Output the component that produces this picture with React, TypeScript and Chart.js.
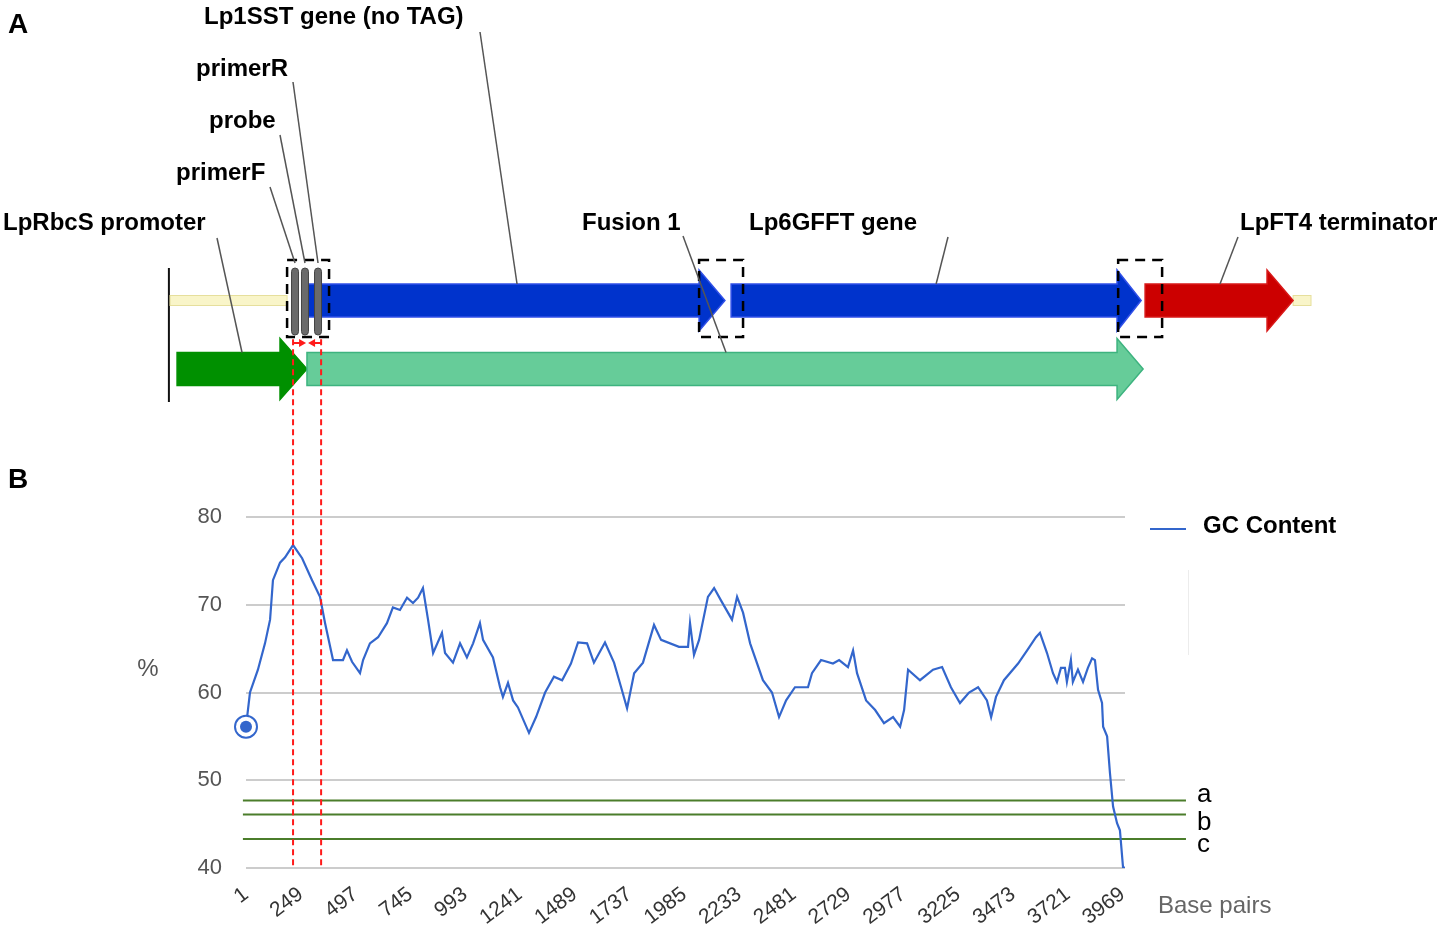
import React, { useEffect, useRef } from 'react';
import { Chart, registerables } from 'chart.js';

Chart.register(...registerables);

// ---------- Panel B data (GC content along the construct) ----------
const gcBp = [
  1, 19, 55, 87, 110, 123, 155, 178, 214, 255, 300, 336, 359, 395, 440, 458, 481, 517, 531, 562,
  599, 639, 666, 698, 730, 757, 780, 802, 825, 848, 888, 902, 938, 970, 1001, 1029, 1060, 1074, 1119, 1151,
  1164, 1187, 1210, 1232, 1282, 1314, 1355, 1395, 1432, 1472, 1504, 1545, 1576, 1626, 1667, 1699, 1726, 1758, 1798, 1848,
  1880, 1961, 2002, 2011, 2029, 2052, 2092, 2120, 2151, 2201, 2224, 2251, 2283, 2341, 2382, 2414, 2446, 2486, 2545, 2563,
  2604, 2658, 2686, 2726, 2749, 2767, 2808, 2849, 2889, 2930, 2962, 2980, 2998, 3052, 3111, 3152, 3192, 3233, 3274, 3315,
  3355, 3374, 3396, 3432, 3496, 3537, 3577, 3595, 3627, 3654, 3672, 3690, 3708, 3717, 3735, 3744, 3767, 3790, 3812, 3831,
  3844, 3858, 3876, 3881, 3899, 3912, 3926, 3944, 3957, 3971, 3980,
];
const gcPct = [
  56.1, 60.0, 62.6, 65.6, 68.3, 72.8, 74.8, 75.4, 76.8, 75.3, 72.8, 70.9, 67.9, 63.7, 63.7, 64.8, 63.5, 62.2, 63.7, 65.6,
  66.3, 67.9, 69.7, 69.4, 70.8, 70.2, 70.8, 71.9, 68.3, 64.5, 66.8, 64.5, 63.4, 65.6, 64.0, 65.6, 67.9, 66.0, 64.0, 60.6,
  59.5, 61.1, 59.1, 58.3, 55.4, 57.2, 60.0, 61.8, 61.4, 63.3, 65.7, 65.6, 63.4, 65.7, 63.4, 60.6, 58.2, 62.2, 63.4, 67.7,
  66.0, 65.2, 65.2, 67.9, 64.3, 66.0, 70.9, 71.9, 70.5, 68.3, 70.9, 69.1, 65.6, 61.4, 60.0, 57.2, 59.1, 60.6, 60.6, 62.2,
  63.7, 63.3, 63.7, 62.9, 64.8, 62.2, 59.1, 58.0, 56.5, 57.2, 56.1, 58.0, 62.6, 61.4, 62.6, 62.9, 60.6, 58.8, 60.0, 60.6,
  59.1, 57.2, 59.5, 61.4, 63.3, 64.8, 66.3, 66.8, 64.5, 62.2, 61.2, 62.8, 62.8, 61.2, 63.7, 61.2, 62.6, 61.2, 62.8, 63.9,
  63.7, 60.3, 58.8, 56.1, 55.0, 50.8, 47.0, 45.1, 44.3, 40.1, 40.0,
];
const xTickValues = [1, 249, 497, 745, 993, 1241, 1489, 1737, 1985, 2233, 2481, 2729, 2977, 3225, 3473, 3721, 3969];
const yTickValues = [40, 50, 60, 70, 80];
const thresholdLabels = ['a', 'b', 'c'];
const thresholdValues = [47.7, 46.1, 43.3];
const thresholdSpan = [-13, 4256];
const ampliconBp = [214, 341];
const ampliconSpanPct = [40.3, 100.5];

// ---------- Panel A data (construct map, in base pairs) ----------
const featureLabels = ['LpRbcS promoter', 'Lp1SST gene (no TAG)', 'Lp6GFFT gene', 'LpFT4 terminator', 'Fusion 1'];
const featureStart = [-311, 277, 2197, 4071, 277];
const featureBodyEnd = [155, 2052, 3944, 4623, 3944];
const featureTip = [277, 2169, 4053, 4741, 4062];
const featureTrack = [2, 1, 1, 1, 2];
const featureLeaderBp = [-17, 1228, 3125, 4410, 2174];
const primerLabels = ['primerF', 'probe', 'primerR'];
const primerBp = [223, 268, 327];
const junctionStart = [187, 2052, 3949];
const junctionEnd = [377, 2251, 4148];
const backboneStart = [-343, 4741];
const backboneEnd = [187, 4822];
const constructBoundaryBp = -348;

// ---------- styling ----------
const FONT = '"Liberation Sans", Arial, sans-serif';
const BLUE = '#3366cc';
const GREEN_LINE = '#4b7d2b';
const RED = '#ff1a1a';
const trackCenter: Record<number, number> = { 1: 300.5, 2: 369 };
const featureFill = ['#009000', '#0033cc', '#0033cc', '#cc0000', '#66cc99'];
const featureStroke = ['#009000', '#3050e8', '#3050e8', '#d81818', '#3db37f'];
const featureLabelPos = [[3, 230], [204, 24], [749, 230], [1240, 230], [582, 230]];
const featureLeaderTop = [[217, 238], [480, 32], [948, 237], [1238, 237], [683, 236]];
const primerLabelPos = [[176, 180], [209, 128], [196, 76]];
const primerLeaderTop = [[270, 187], [280, 135], [293, 82]];

const panelPlugin = {
  id: 'panelA',
  beforeDatasetsDraw(chart: any) {
    const ctx = chart.ctx as CanvasRenderingContext2D;
    const xs = chart.scales.x;
    const px = (bp: number) => xs.getPixelForValue(bp);
    ctx.save();

    // construct boundary
    ctx.strokeStyle = '#111';
    ctx.lineWidth = 2;
    ctx.beginPath();
    ctx.moveTo(px(constructBoundaryBp), 268);
    ctx.lineTo(px(constructBoundaryBp), 402);
    ctx.stroke();

    // backbone
    for (let i = 0; i < backboneStart.length; i++) {
      const x0 = px(backboneStart[i]);
      const x1 = px(backboneEnd[i]);
      ctx.fillStyle = '#f9f5c9';
      ctx.strokeStyle = '#e6df9c';
      ctx.lineWidth = 1;
      ctx.fillRect(x0, trackCenter[1] - 5, x1 - x0, 10);
      ctx.strokeRect(x0, trackCenter[1] - 5, x1 - x0, 10);
    }

    // arrows
    for (let i = 0; i < featureLabels.length; i++) {
      const c = trackCenter[featureTrack[i]];
      const x0 = px(featureStart[i]);
      const xb = px(featureBodyEnd[i]);
      const xt = px(featureTip[i]);
      const bh = 16.5;
      const hh = 30.5;
      ctx.beginPath();
      ctx.moveTo(x0, c - bh);
      ctx.lineTo(xb, c - bh);
      ctx.lineTo(xb, c - hh);
      ctx.lineTo(xt, c);
      ctx.lineTo(xb, c + hh);
      ctx.lineTo(xb, c + bh);
      ctx.lineTo(x0, c + bh);
      ctx.closePath();
      ctx.fillStyle = featureFill[i];
      ctx.fill();
      ctx.strokeStyle = featureStroke[i];
      ctx.lineWidth = 1.5;
      ctx.stroke();
    }

    // primers / probe
    for (let i = 0; i < primerBp.length; i++) {
      const x = px(primerBp[i]);
      ctx.fillStyle = '#6a6a6a';
      ctx.strokeStyle = '#444';
      ctx.lineWidth = 1;
      ctx.beginPath();
      (ctx as any).roundRect(x - 3.5, 268, 7, 67, 3.5);
      ctx.fill();
      ctx.stroke();
    }

    // dashed junction boxes
    ctx.setLineDash([10, 7]);
    ctx.strokeStyle = '#000';
    ctx.lineWidth = 2.5;
    for (let i = 0; i < junctionStart.length; i++) {
      const x0 = px(junctionStart[i]);
      const x1 = px(junctionEnd[i]);
      ctx.strokeRect(x0, 260, x1 - x0, 77);
    }
    ctx.setLineDash([]);

    // small red arrows between amplicon edges
    const a0 = px(ampliconBp[0]);
    const a1 = px(ampliconBp[1]);
    const mid = (a0 + a1) / 2;
    ctx.strokeStyle = RED;
    ctx.fillStyle = RED;
    ctx.lineWidth = 2;
    const ay = 343;
    ctx.beginPath();
    ctx.moveTo(a0, ay);
    ctx.lineTo(mid - 6, ay);
    ctx.moveTo(a1, ay);
    ctx.lineTo(mid + 6, ay);
    ctx.stroke();
    ctx.beginPath();
    ctx.moveTo(mid - 1, ay);
    ctx.lineTo(mid - 8, ay - 4);
    ctx.lineTo(mid - 8, ay + 4);
    ctx.closePath();
    ctx.moveTo(mid + 1, ay);
    ctx.lineTo(mid + 8, ay - 4);
    ctx.lineTo(mid + 8, ay + 4);
    ctx.closePath();
    ctx.fill();

    // leader lines
    ctx.strokeStyle = '#555';
    ctx.lineWidth = 1.5;
    for (let i = 0; i < featureLabels.length; i++) {
      const [lx, ly] = featureLeaderTop[i];
      const c = trackCenter[featureTrack[i]];
      ctx.beginPath();
      ctx.moveTo(lx, ly);
      ctx.lineTo(px(featureLeaderBp[i]), c - 16.5);
      ctx.stroke();
    }
    for (let i = 0; i < primerBp.length; i++) {
      const [lx, ly] = primerLeaderTop[i];
      ctx.beginPath();
      ctx.moveTo(lx, ly);
      ctx.lineTo(px(primerBp[i]), 263);
      ctx.stroke();
    }

    // labels
    ctx.fillStyle = '#000';
    ctx.textAlign = 'left';
    ctx.textBaseline = 'alphabetic';
    ctx.font = `bold 24px ${FONT}`;
    for (let i = 0; i < featureLabels.length; i++) {
      ctx.fillText(featureLabels[i], featureLabelPos[i][0], featureLabelPos[i][1]);
    }
    for (let i = 0; i < primerLabels.length; i++) {
      ctx.fillText(primerLabels[i], primerLabelPos[i][0], primerLabelPos[i][1]);
    }

    // panel letters
    ctx.font = `bold 28px ${FONT}`;
    ctx.fillText('A', 8, 33);
    ctx.fillText('B', 8, 488);
    ctx.restore();
  },
  afterDraw(chart: any) {
    const ctx = chart.ctx as CanvasRenderingContext2D;
    const ys = chart.scales.y;
    const xs = chart.scales.x;
    ctx.save();
    // % axis title
    ctx.fillStyle = '#555';
    ctx.font = `24px ${FONT}`;
    ctx.textAlign = 'center';
    ctx.textBaseline = 'middle';
    ctx.fillText('%', 148, 669);

    // threshold labels
    const offs = [2, 16, 13];
    ctx.fillStyle = '#000';
    ctx.font = `26px ${FONT}`;
    ctx.textAlign = 'left';
    ctx.textBaseline = 'alphabetic';
    for (let i = 0; i < thresholdLabels.length; i++) {
      ctx.fillText(thresholdLabels[i], xs.getPixelForValue(thresholdSpan[1]) + 11, ys.getPixelForValue(thresholdValues[i]) + offs[i]);
    }

    // x axis title
    ctx.fillStyle = '#666';
    ctx.font = `24px ${FONT}`;
    ctx.fillText('Base pairs', 1158, 913);

    // legend
    ctx.strokeStyle = BLUE;
    ctx.lineWidth = 2;
    ctx.beginPath();
    ctx.moveTo(1150, 529);
    ctx.lineTo(1186, 529);
    ctx.stroke();
    ctx.fillStyle = '#000';
    ctx.font = `bold 24px ${FONT}`;
    ctx.fillText('GC Content', 1203, 533);

    // faint separator
    ctx.strokeStyle = '#ececec';
    ctx.lineWidth = 1;
    ctx.beginPath();
    ctx.moveTo(1188.5, 570);
    ctx.lineTo(1188.5, 655);
    ctx.stroke();
    ctx.restore();
  },
};

export default function App() {
  const canvasRef = useRef<HTMLCanvasElement | null>(null);

  useEffect(() => {
    const canvas = canvasRef.current;
    if (!canvas) return;
    const gcPoints = gcBp.map((x, i) => ({ x, y: gcPct[i] }));
    const chart = new Chart(canvas, {
      type: 'line',
      data: {
        datasets: [
          {
            label: 'start',
            data: [gcPoints[0]],
            showLine: false,
            pointRadius: 6,
            pointBackgroundColor: BLUE,
            pointBorderWidth: 0,
            clip: false as any,
            order: 0,
          },
          {
            label: 'start ring',
            data: [gcPoints[0]],
            showLine: false,
            pointRadius: 11,
            pointBackgroundColor: '#ffffff',
            pointBorderColor: BLUE,
            pointBorderWidth: 2,
            clip: false as any,
            order: 1,
          },
          {
            label: 'GC Content',
            data: gcPoints,
            borderColor: BLUE,
            borderWidth: 2.2,
            pointRadius: 0,
            tension: 0,
            order: 2,
          },
          ...thresholdValues.map((v, i) => ({
            label: thresholdLabels[i],
            data: [{ x: thresholdSpan[0], y: v }, { x: thresholdSpan[1], y: v }],
            borderColor: GREEN_LINE,
            borderWidth: 2,
            pointRadius: 0,
            clip: false as any,
            order: 3,
          })),
          ...ampliconBp.map((b, i) => ({
            label: 'amplicon ' + i,
            data: [{ x: b, y: ampliconSpanPct[0] }, { x: b, y: ampliconSpanPct[1] }],
            borderColor: RED,
            borderWidth: 2,
            borderDash: [6, 4],
            pointRadius: 0,
            clip: false as any,
            order: -1,
          })),
        ] as any,
      },
      options: {
        animation: false,
        responsive: false,
        devicePixelRatio: 1,
        layout: { padding: { top: 517, right: 327, bottom: 0, left: 0 } },
        plugins: { legend: { display: false }, tooltip: { enabled: false } },
        scales: {
          x: {
            type: 'linear',
            min: 1,
            max: 3980,
            afterBuildTicks: (s: any) => {
              s.ticks = xTickValues.map((v) => ({ value: v }));
            },
            afterFit: (s: any) => {
              s.height = 66;
            },
            grid: { display: false, drawTicks: false },
            border: { display: false },
            ticks: {
              autoSkip: false,
              minRotation: 37,
              maxRotation: 37,
              padding: 14,
              color: '#333',
              font: { family: FONT, size: 21 },
              callback: (v: any) => String(v),
            },
          },
          y: {
            min: 40,
            max: 80,
            afterBuildTicks: (s: any) => {
              s.ticks = yTickValues.map((v) => ({ value: v }));
            },
            afterFit: (s: any) => {
              s.width = 246;
            },
            grid: { color: '#cccccc', lineWidth: 2, drawTicks: false },
            border: { display: false },
            ticks: {
              padding: 24,
              color: '#555',
              font: { family: FONT, size: 22 },
              callback: (v: any) => String(v),
            },
          },
        },
      } as any,
      plugins: [panelPlugin],
    });
    return () => chart.destroy();
  }, []);

  return (
    <div style={{ position: 'fixed', left: 0, top: 0, width: 1452, height: 934, background: '#fff' }}>
      <canvas ref={canvasRef} width={1452} height={934} style={{ width: 1452, height: 934, display: 'block' }} />
    </div>
  );
}
